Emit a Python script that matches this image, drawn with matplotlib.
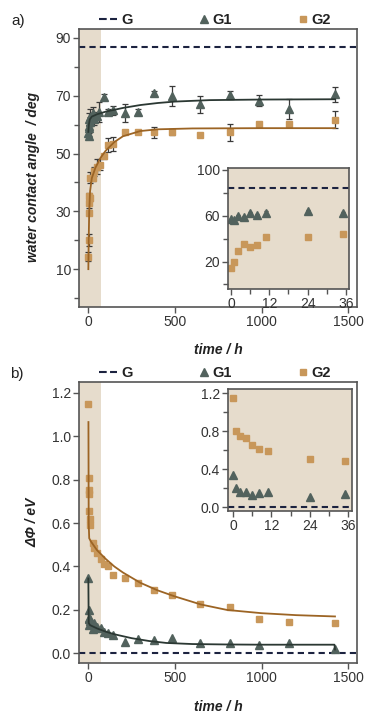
import numpy as np
import matplotlib
matplotlib.use("Agg")
import matplotlib.pyplot as plt
from matplotlib.lines import Line2D
from matplotlib.legend_handler import HandlerLine2D
from matplotlib.ticker import FormatStrFormatter

plt.rcParams['font.family'] = ['Liberation Sans', 'DejaVu Sans']

# ---- data: panel a (water contact angle) ----
t_a1 = np.array([0, 1, 2, 4, 6, 8, 11, 24, 35, 48, 62, 92, 115, 144, 213, 288, 379, 481, 646, 815, 984, 1156, 1423])
y_a1 = np.array([57, 56, 59.5, 59, 62, 61, 62.5, 64, 62, 63, 64.5, 69.5, 64.5, 65, 64, 64.5, 71, 70, 67, 70.3, 68.3, 65.5, 70.5])
e_a1 = np.array([1, 1, 1.5, 1, 2, 1.5, 3, 2, 2, 1.5, 3.5, 1, 1, 1.5, 3, 0.8, 0.8, 3.5, 3, 1.5, 1.8, 3.5, 2.5])

t_a2 = np.array([0, 1, 2, 4, 6, 8, 11, 24, 35, 48, 67, 92, 115, 144, 213, 288, 379, 481, 646, 815, 984, 1156, 1423])
y_a2 = np.array([14.3, 20, 29.6, 35.4, 33, 34.5, 41.7, 41.5, 43.8, 45.5, 46.2, 49, 53, 53.4, 57.3, 57.6, 57.3, 57.4, 56.5, 57.3, 60.2, 60.3, 61.7])
e_a2 = np.array([1.5, 2, 1, 1, 2, 1, 2, 1, 1.5, 2.5, 2, 1, 2.5, 2.5, 0.5, 0.5, 2, 1, 0.5, 3, 0.5, 0.5, 3])

G_a = 87.0

# fit curves
fit_t_a1 = [0, 3, 8, 20, 50, 100, 200, 300, 400, 500, 700, 1000, 1423]
fit_y_a1 = [57.5, 60, 61.8, 62.8, 63.6, 64.5, 65.8, 66.8, 67.5, 68.0, 68.5, 68.7, 68.8]
fit_t_a2 = [0, 2, 5, 10, 20, 40, 70, 100, 150, 200, 300, 400, 600, 1000, 1423]
fit_y_a2 = [10, 20, 30, 37, 41.5, 45, 48.5, 51, 54, 56, 57.8, 58.4, 58.7, 58.8, 58.8]

# ---- data: panel b (work function shift) ----
t_b = np.array([0, 1, 2, 4, 6, 8, 11, 24, 35, 48, 72, 92, 115, 144, 213, 288, 379, 481, 646, 815, 984, 1156, 1423])
y_b1 = np.array([0.345, 0.2, 0.164, 0.157, 0.129, 0.15, 0.157, 0.112, 0.14, 0.12, 0.115, 0.1, 0.092, 0.084,
                 0.053, 0.066, 0.061, 0.069, 0.046, 0.05, 0.038, 0.046, 0.018])
y_b2 = np.array([1.147, 0.806, 0.754, 0.733, 0.656, 0.617, 0.593, 0.508, 0.487, 0.462, 0.434, 0.411, 0.403,
                 0.362, 0.347, 0.324, 0.29, 0.27, 0.229, 0.215, 0.158, 0.146, 0.138])
G_b = 0.0

fit_t_b1 = [0, 2, 10, 50, 100, 150, 250, 350, 450, 600, 800, 1000, 1420, 1423]
fit_y_b1 = [0.345, 0.14, 0.13, 0.115, 0.1, 0.088, 0.07, 0.057, 0.048, 0.043, 0.041, 0.04, 0.04, 0.018]
fit_t_b2 = [0.5, 2, 5, 15, 50, 100, 150, 200, 300, 400, 500, 650, 800, 1000, 1200, 1423]
fit_y_b2 = [1.065, 0.6, 0.53, 0.515, 0.475, 0.435, 0.4, 0.372, 0.325, 0.29, 0.262, 0.225, 0.2, 0.185, 0.176, 0.17]

shade_end = 72

# colours
c_g = '#1c2340'
c_g1 = '#52625d'
c_g1_line = '#2b3833'
c_g2 = '#c8975a'
c_g2_line = '#9c6424'
c_shade = '#e6dccc'
c_spine = '#555555'
c_text = '#333333'

fig = plt.figure(figsize=(3.87, 7.17), dpi=100)


def style(ax, fs=10):
    for s in ax.spines.values():
        s.set_color(c_spine)
        s.set_linewidth(1.2)
    ax.tick_params(which='major', length=4, width=1, color=c_spine, labelsize=fs, labelcolor=c_text, pad=2)
    ax.tick_params(which='minor', length=3.5, width=1, color=c_spine)


def legend(ax):
    h = [Line2D([], [], color=c_g, ls='--', lw=1.5),
         Line2D([], [], color=c_g1, marker='^', ls='none', ms=6),
         Line2D([], [], color=c_g2, marker='s', ls='none', ms=5)]
    hm = {h[1]: HandlerLine2D(xpad=0.8), h[2]: HandlerLine2D(xpad=0.8)}
    leg = ax.legend(h, ['G', 'G1', 'G2'], ncol=3, loc='center', bbox_to_anchor=(0.487, 1.034),
                    frameon=False, handlelength=1.25, handletextpad=0.3, columnspacing=3.9,
                    borderpad=0, numpoints=1, handler_map=hm, prop={'weight': 'bold', 'size': 10.5})
    for t in leg.get_texts():
        t.set_color('#222222')


# ================= panel a =================
ax = fig.add_axes([0.205, 0.5722, 0.7175, 0.3869])
ax.set_xlim(-52, 1550)
ax.set_ylim(-3, 93)
ax.axvspan(-52, shade_end, color=c_shade, lw=0, zorder=0)
ax.axhline(G_a, color=c_g, ls='--', lw=1.5, dashes=(3, 2))
ax.errorbar(t_a1, y_a1, yerr=e_a1, fmt='^', color=c_g1, ms=6, ecolor='#3a3a3a', elinewidth=0.9, capsize=2.5, capthick=0.9, zorder=3)
ax.errorbar(t_a2, y_a2, yerr=e_a2, fmt='s', color=c_g2, ms=5, ecolor='#3a3a3a', elinewidth=0.9, capsize=2.5, capthick=0.9, zorder=3)
ax.plot(fit_t_a1, fit_y_a1, color=c_g1_line, lw=1.3, zorder=4)
ax.plot(fit_t_a2, fit_y_a2, color=c_g2_line, lw=1.3, zorder=4)
ax.set_xticks([0, 500, 1000, 1500])
ax.set_yticks([10, 30, 50, 70, 90])
ax.set_yticks([0, 20, 40, 60, 80], minor=True)
style(ax)
ax.set_xlabel('time / h', fontsize=10, fontweight='bold', style='italic', color='#222222')
ax.xaxis.set_label_coords(0.5, -0.132)
ax.set_ylabel('water contact angle  / deg', fontsize=10, fontweight='bold', style='italic', color='#222222')
ax.yaxis.set_label_coords(-0.142, 0.468)
legend(ax)
fig.text(0.03, 1 - 21 / 717, 'a)', fontsize=11, va='center', color='#222222')

# inset a
ia = fig.add_axes([0.5891, 0.5969, 0.3127, 0.1692])
ia.set_facecolor(c_shade)
ia.set_xlim(-1, 37)
ia.set_ylim(-4, 102)
ia.axhline(G_a - 3, color=c_g, ls='--', lw=1.5, dashes=(3, 2))
m1 = t_a1 <= 36
m2 = t_a2 <= 36
ia.errorbar(t_a1[m1], y_a1[m1], yerr=e_a1[m1] * 0.5, fmt='^', color=c_g1, ms=6, ecolor='#3a3a3a', elinewidth=0.8, capsize=1.5)
ia.errorbar(t_a2[m2], y_a2[m2], yerr=e_a2[m2] * 0.7, fmt='s', color=c_g2, ms=5, ecolor='#3a3a3a', elinewidth=0.8, capsize=1.5)
ia.set_xticks([0, 12, 24, 36])
ia.set_xticks([6, 18, 30], minor=True)
ia.set_yticks([20, 60, 100])
ia.set_yticks([0, 40, 80], minor=True)
style(ia)

# ================= panel b =================
bx = fig.add_axes([0.205, 0.0757, 0.7175, 0.3911])
bx.set_xlim(-52, 1550)
bx.set_ylim(-0.043, 1.248)
bx.axvspan(-52, shade_end, color=c_shade, lw=0, zorder=0)
bx.axhline(G_b, color=c_g, ls='--', lw=1.5, dashes=(3, 2), zorder=2)
bx.plot(t_b, y_b1, '^', color=c_g1, ms=6, zorder=3)
bx.plot(t_b, y_b2, 's', color=c_g2, ms=5, zorder=3)
bx.plot(fit_t_b1, fit_y_b1, color=c_g1_line, lw=1.3, zorder=4)
bx.plot(fit_t_b2, fit_y_b2, color=c_g2_line, lw=1.3, zorder=4)
bx.set_xticks([0, 500, 1000, 1500])
bx.set_yticks([0.0, 0.2, 0.4, 0.6, 0.8, 1.0, 1.2])
bx.yaxis.set_major_formatter(FormatStrFormatter('%.1f'))
style(bx)
bx.set_xlabel('time / h', fontsize=10, fontweight='bold', style='italic', color='#222222')
bx.xaxis.set_label_coords(0.5, -0.133)
bx.set_ylabel('ΔΦ / eV', fontsize=10, fontweight='bold', style='italic', color='#222222')
bx.yaxis.set_label_coords(-0.142, 0.5)
legend(bx)
fig.text(0.025, 1 - 374 / 717, 'b)', fontsize=11, va='center', color='#222222')

# inset b
ib = fig.add_axes([0.5904, 0.2873, 0.3184, 0.1697])
ib.set_facecolor(c_shade)
ib.set_xlim(-1.45, 37.1)
ib.set_ylim(-0.039, 1.242)
ib.axhline(G_b, color=c_g, ls='--', lw=1.5, dashes=(3, 2))
mb = t_b <= 36
ib.plot(t_b[mb], y_b1[mb], '^', color=c_g1, ms=6)
ib.plot(t_b[mb], y_b2[mb], 's', color=c_g2, ms=5)
ib.set_xticks([0, 12, 24, 36])
ib.set_xticks([6, 18, 30], minor=True)
ib.set_yticks([0.0, 0.4, 0.8, 1.2])
ib.set_yticks([0.2, 0.6, 1.0], minor=True)
ib.yaxis.set_major_formatter(FormatStrFormatter('%.1f'))
style(ib)

fig.savefig('out.png', dpi=100)
